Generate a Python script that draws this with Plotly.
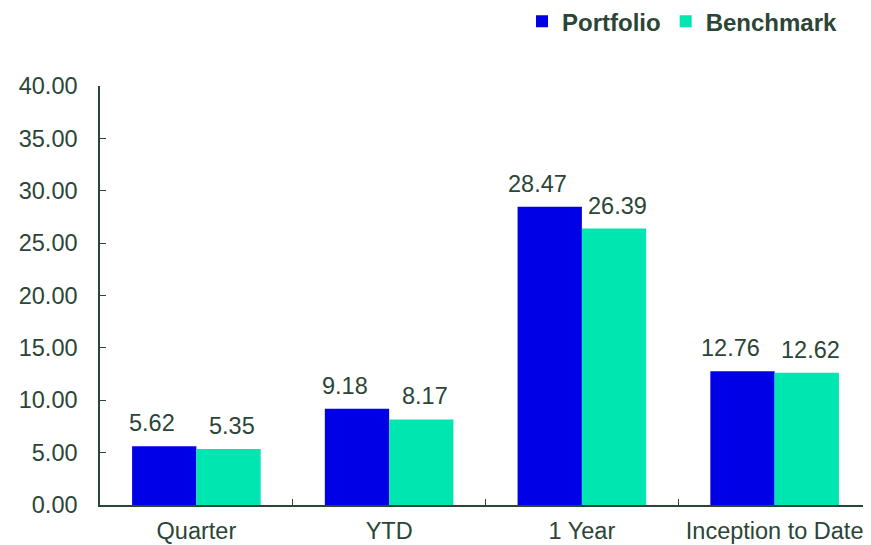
import plotly.graph_objects as go

categories = ["Quarter", "YTD", "1 Year", "Inception to Date"]
portfolio = [5.62, 9.18, 28.47, 12.76]
benchmark = [5.35, 8.17, 26.39, 12.62]
y_ticks = [0, 5, 10, 15, 20, 25, 30, 35, 40]

TEXT = "#2B4536"
FONT = "Liberation Sans, Arial, sans-serif"
BLUE = "#0000E6"
GREEN = "#00E6B0"
FS = 23.5

fig = go.Figure()
fig.add_trace(go.Bar(name="Portfolio", x=categories, y=portfolio,
                     marker=dict(color=BLUE, line=dict(width=0))))
fig.add_trace(go.Bar(name="Benchmark", x=categories, y=benchmark,
                     marker=dict(color=GREEN, line=dict(width=0))))

annotations = []
for c, v in zip(categories, portfolio):
    annotations.append(dict(x=c, y=v, text=f"{v:.2f}", showarrow=False,
                            xshift=-44, yshift=8, yanchor="bottom",
                            font=dict(size=FS, color=TEXT, family=FONT)))
for c, v in zip(categories, benchmark):
    annotations.append(dict(x=c, y=v, text=f"{v:.2f}", showarrow=False,
                            xshift=36, yshift=8, yanchor="bottom",
                            font=dict(size=FS, color=TEXT, family=FONT)))

# the page body has an 8px default margin, so the figure is sized to fit the window
fig.update_layout(
    width=863, height=537,
    margin=dict(l=92, r=0, t=78, b=40, autoexpand=False),
    paper_bgcolor="white", plot_bgcolor="white",
    barmode="group", bargap=0.333, bargroupgap=0,
    font=dict(family=FONT, size=FS, color=TEXT),
    annotations=annotations,
    legend=dict(orientation="h", xref="paper", yref="paper",
                x=0.9637, xanchor="right", y=1.207, yanchor="top",
                font=dict(size=24, color=TEXT, family=FONT, weight="bold"),
                bgcolor="rgba(0,0,0,0)", itemclick=False),
    xaxis=dict(showline=True, linecolor=TEXT, linewidth=1.5,
               ticks="inside", ticklen=6, tickcolor=TEXT, tickwidth=1,
               tickson="boundaries", showgrid=False, zeroline=False,
               ticklabelstandoff=4,
               tickfont=dict(size=FS, color=TEXT, family=FONT)),
    yaxis=dict(range=[0, 40], tickvals=y_ticks,
               ticktext=[f"{t:.2f}" for t in y_ticks],
               showline=True, linecolor=TEXT, linewidth=1.5,
               ticks="inside", ticklen=6, tickcolor=TEXT, tickwidth=1,
               showgrid=False, zeroline=False, ticklabelstandoff=16,
               tickfont=dict(size=FS, color=TEXT, family=FONT)),
)

fig.write_html("out.html")
